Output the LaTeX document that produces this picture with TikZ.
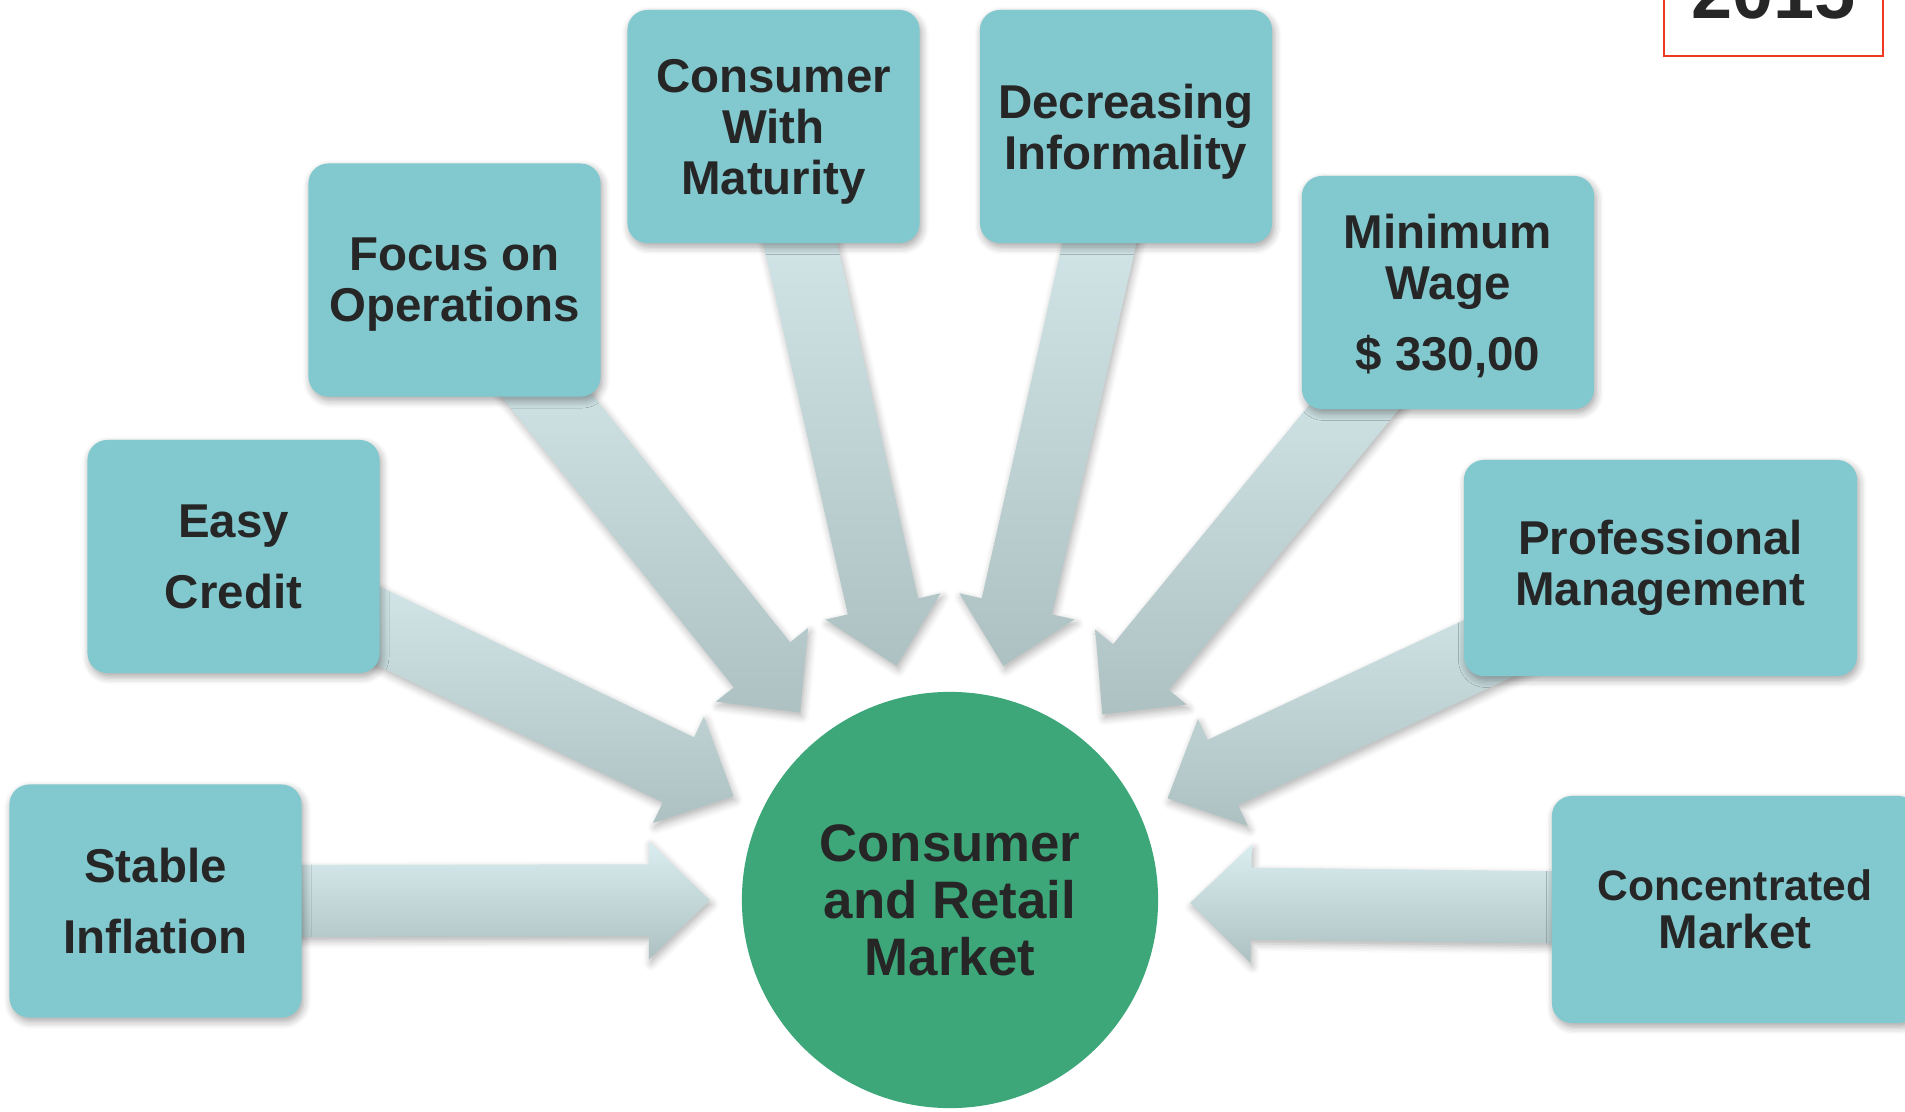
\documentclass[tikz,border=0pt]{standalone}
\usepackage{fontspec}
\setmainfont{Liberation Sans}
\usetikzlibrary{calc,backgrounds,shadows.blur}

\definecolor{boxteal}{HTML}{82C9CF}
\definecolor{hubgreen}{HTML}{3DA77A}
\definecolor{inktext}{HTML}{262626}
\definecolor{arrowtop}{HTML}{DAEDF0}
\definecolor{arrowbot}{HTML}{ADC1C2}
\definecolor{yearred}{HTML}{F0391E}

\tikzset{
	factor/.style={rectangle, rounded corners=0.2cm, fill=boxteal, text=inktext, align=center,
		font=\bfseries\fontsize{13.5}{14.5}\selectfont, minimum width=2.92cm, minimum height=2.33cm,
		blur shadow={shadow xshift=0.02cm, shadow yshift=-0.04cm, shadow blur steps=6, shadow opacity=35}},
	hub/.style={circle, fill=hubgreen, text=inktext, align=center, minimum size=4.16cm,
		font=\bfseries\fontsize{15}{16.2}\selectfont},
	feed/.style={top color=arrowtop, bottom color=arrowbot,
		blur shadow={shadow xshift=0.02cm, shadow yshift=-0.04cm, shadow blur steps=5, shadow opacity=30}},
	yearbox/.style={rectangle, draw=yearred, line width=0.6pt, text=inktext, minimum width=2.19cm,
		minimum height=1.25cm, font=\bfseries\fontsize{21}{22}\selectfont}
}

% block arrow from a factor box towards the hub
\newcommand{\feedarrow}[2]{%
	\coordinate (tip) at ($(#2.center)!2.4cm!(#1.center)$);
	\coordinate (neck) at ($(tip)!0.61cm!(#1.center)$);
	\path[feed] ($(#1.center)!0.36cm!-90:(#2.center)$) -- ($(neck)!0.36cm!90:(#1.center)$)
		-- ($(neck)!0.59cm!90:(#1.center)$) -- (tip) -- ($(neck)!0.59cm!-90:(#1.center)$)
		-- ($(neck)!0.36cm!-90:(#1.center)$) -- ($(#1.center)!0.36cm!90:(#2.center)$) -- cycle;
}

\begin{document}
\begin{tikzpicture}[x=0.01cm, y=-0.01cm]
	\useasboundingbox (0,0) rectangle (1905,1112);

	\node[hub] (market) at (950,900) {Consumer\\and Retail\\Market};

	\node[factor] (inflation) at (155.5,901) {Stable\\[0.2cm]Inflation};
	\node[factor] (credit) at (233.5,556.5) {Easy\\[0.2cm]Credit};
	\node[factor, text depth=0pt] (operations) at (454.5,280) {Focus on\\Operations};
	\node[factor, text depth=0pt] (maturity) at (773.5,126.5) {Consumer\\With\\Maturity};
	\node[factor, text depth=0pt] (informality) at (1126,126.5) {Decreasing\\Informality};
	\node[factor, text depth=0pt] (wage) at (1448,292.5) {Minimum\\Wage\\[0.2cm]\$ 330,00};
	\node[factor, minimum width=3.93cm, minimum height=2.16cm] (management) at (1660.5,568) {Professional\\Management};
	\node[factor, minimum width=3.66cm, minimum height=2.27cm, font=\bfseries\fontsize{13.5}{13.7}\selectfont]
		(concentrated) at (1735,909.5) {{\fontsize{12.1}{13.7}\selectfont Concentrated}\\Market};

	\node[yearbox] (year) at (1773.5,-6.5) {2015};

	\begin{scope}[on background layer]
		\foreach \src in {inflation,credit,operations,maturity,informality,wage,management,concentrated}
			\feedarrow{\src}{market};
	\end{scope}
\end{tikzpicture}
\end{document}
